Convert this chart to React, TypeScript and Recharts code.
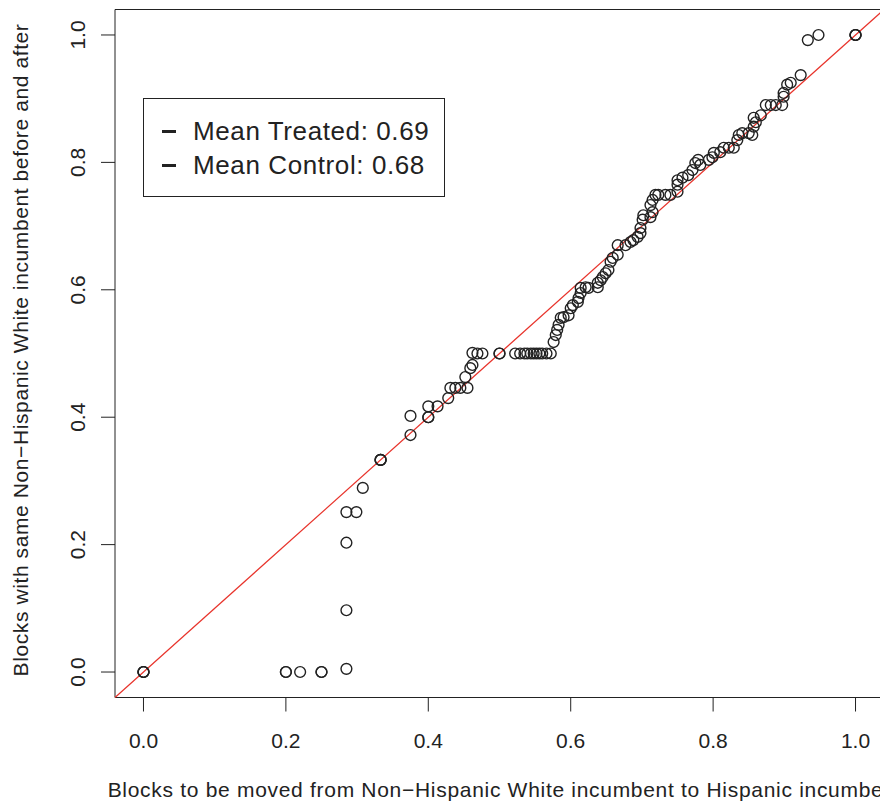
import React from "react";
import {
  ScatterChart,
  Scatter,
  XAxis,
  YAxis,
  ReferenceLine,
  ReferenceArea,
} from "recharts";

// quantiles of treated (x) vs control (y)
const xVals = [
  0, 0, 0, 0.2, 0.2, 0.22, 0.25, 0.25, 0.285, 0.285, 0.285, 0.285, 0.299, 0.308,
  0.333, 0.333, 0.333, 0.375, 0.375, 0.4, 0.4, 0.4, 0.413, 0.428, 0.431, 0.438,
  0.445, 0.455, 0.452, 0.459, 0.462, 0.462, 0.469, 0.476, 0.5, 0.5, 0.522, 0.529,
  0.535, 0.539, 0.544, 0.548, 0.552, 0.556, 0.56, 0.566, 0.572, 0.576, 0.579,
  0.581, 0.583, 0.586, 0.59, 0.597, 0.6, 0.603, 0.61, 0.611, 0.614, 0.614, 0.621,
  0.625, 0.638, 0.638, 0.642, 0.645, 0.649, 0.653, 0.656, 0.659, 0.666, 0.666,
  0.677, 0.684, 0.688, 0.694, 0.698, 0.698, 0.701, 0.702, 0.712, 0.715, 0.712,
  0.715, 0.719, 0.723, 0.733, 0.74, 0.75, 0.75, 0.75, 0.757, 0.765, 0.771, 0.775,
  0.779, 0.782, 0.794, 0.799, 0.801, 0.81, 0.815, 0.822, 0.829, 0.834, 0.836,
  0.841, 0.85, 0.855, 0.857, 0.86, 0.857, 0.867, 0.874, 0.881, 0.888, 0.897,
  0.899, 0.899, 0.904, 0.909, 0.923, 0.933, 0.948, 1, 1, 1,
];
const yVals = [
  0, 0, 0, 0, 0, 0, 0, 0, 0.005, 0.097, 0.203, 0.251, 0.251, 0.289,
  0.333, 0.333, 0.333, 0.372, 0.402, 0.4, 0.4, 0.417, 0.417, 0.43, 0.446, 0.446,
  0.446, 0.446, 0.463, 0.477, 0.482, 0.501, 0.5, 0.5, 0.5, 0.5, 0.5, 0.5,
  0.5, 0.5, 0.5, 0.5, 0.5, 0.5, 0.5, 0.5, 0.5, 0.518, 0.529,
  0.537, 0.545, 0.556, 0.557, 0.56, 0.571, 0.576, 0.581, 0.587, 0.595, 0.603, 0.604,
  0.603, 0.604, 0.611, 0.615, 0.62, 0.626, 0.631, 0.644, 0.65, 0.655, 0.67,
  0.67, 0.675, 0.678, 0.683, 0.689, 0.697, 0.71, 0.717, 0.714, 0.722, 0.733,
  0.741, 0.749, 0.749, 0.749, 0.749, 0.754, 0.765, 0.772, 0.776, 0.78, 0.788, 0.799,
  0.804, 0.796, 0.804, 0.808, 0.815, 0.816, 0.823, 0.823, 0.823, 0.835, 0.843,
  0.846, 0.846, 0.843, 0.856, 0.863, 0.87, 0.874, 0.89, 0.89, 0.89, 0.89,
  0.903, 0.909, 0.922, 0.925, 0.937, 0.992, 1, 1, 1, 1,
];

const axisTicks = [0, 0.2, 0.4, 0.6, 0.8, 1];
const legendItems = ["Mean Treated: 0.69", "Mean Control: 0.68"];

const data = xVals.map((x, i) => ({ x, y: yVals[i] }));

const font = "'Liberation Sans', Arial, Helvetica, sans-serif";

const Circle = (props: any) => (
  <circle cx={props.cx} cy={props.cy} r={5.4} fill="none" stroke="#222" strokeWidth={1.4} />
);

const YTick = (props: any) => {
  const { y, payload } = props;
  return (
    <text
      x={85}
      y={y}
      transform={`rotate(-90, 85, ${y})`}
      textAnchor="middle"
      fontSize={21}
      fontFamily={font}
      fill="#222"
    >
      {payload.value.toFixed(1)}
    </text>
  );
};

const XTick = (props: any) => {
  const { x, payload } = props;
  return (
    <text x={x} y={748} textAnchor="middle" fontSize={21} fontFamily={font} fill="#222">
      {payload.value.toFixed(1)}
    </text>
  );
};

export default function App() {
  return (
    <div
      style={{
        position: "fixed",
        left: 0,
        top: 0,
        width: 880,
        height: 803,
        overflow: "hidden",
        background: "#fff",
      }}
    >
      <ScatterChart
        width={920}
        height={803}
        margin={{ top: 9.5, right: 36, bottom: 0, left: 0 }}
      >
        <XAxis
          type="number"
          dataKey="x"
          domain={[-0.04, 1.04]}
          ticks={axisTicks}
          allowDataOverflow
          axisLine={false}
          tickLine={{ stroke: "#222" }}
          tickSize={14}
          tick={<XTick />}
          height={105.5}
        />
        <YAxis
          type="number"
          dataKey="y"
          domain={[-0.04, 1.04]}
          ticks={axisTicks}
          allowDataOverflow
          axisLine={false}
          tickLine={{ stroke: "#222" }}
          tickSize={14}
          tick={<YTick />}
          width={115}
        />
        <ReferenceArea
          x1={-0.04}
          x2={1.04}
          y1={-0.04}
          y2={1.04}
          fill="none"
          fillOpacity={0}
          stroke="#222"
          strokeWidth={1}
        />
        <ReferenceLine
          segment={[
            { x: -0.04, y: -0.04 },
            { x: 1.04, y: 1.04 },
          ]}
          stroke="#e8332b"
          strokeWidth={1.2}
        />
        <Scatter data={data} shape={<Circle />} isAnimationActive={false} />
      </ScatterChart>

      {/* axis titles (x title runs off the right edge, as in the source) */}
      <div
        style={{
          position: "absolute",
          left: 505,
          top: 790,
          transform: "translate(-50%, -50%)",
          whiteSpace: "nowrap",
          fontFamily: font,
          fontSize: 21,
          letterSpacing: 0.7,
          color: "#222",
        }}
      >
        Blocks to be moved from Non−Hispanic White incumbent to Hispanic incumbent
      </div>
      <div
        style={{
          position: "absolute",
          left: 21,
          top: 350,
          transform: "translate(-50%, -50%) rotate(-90deg)",
          whiteSpace: "nowrap",
          fontFamily: font,
          fontSize: 21,
          letterSpacing: 0.6,
          color: "#222",
        }}
      >
        Blocks with same Non−Hispanic White incumbent before and after
      </div>

      {/* legend */}
      <div
        style={{
          position: "absolute",
          left: 143,
          top: 98,
          width: 302,
          height: 99,
          border: "1px solid #222",
          fontFamily: font,
          fontSize: 26,
          letterSpacing: 0.6,
          color: "#222",
          boxSizing: "border-box",
          paddingTop: 15,
        }}
      >
        {legendItems.map((t) => (
          <div key={t} style={{ display: "flex", alignItems: "center", height: 34 }}>
            <span
              style={{
                display: "inline-block",
                width: 14,
                height: 3,
                background: "#222",
                marginLeft: 18,
                marginRight: 17,
              }}
            />
            <span>{t}</span>
          </div>
        ))}
      </div>
    </div>
  );
}
